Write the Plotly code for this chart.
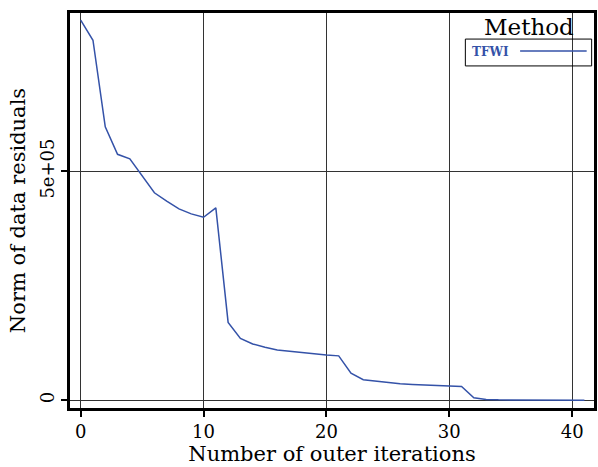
import plotly.graph_objects as go

iterations = list(range(42))
residuals = [830000, 786000, 597000, 537000, 527000, 490000, 453000, 435000, 418000, 407000,
             399500, 420000, 170000, 135000, 123000, 116000, 110000, 107000, 104000, 101000,
             99000, 97000, 59000, 45000, 42000, 38500, 36000, 34500, 33000, 32000,
             31000, 30000, 5700, 2000, 1000, 700, 500, 400, 300, 250, 200, 150]
x_ticks = [0, 10, 20, 30, 40]
y_ticks = [0, 500000]
y_tick_labels = ["0", "5e+05"]
series_name = "TFWI"
legend_title = "Method"

FONT = "DejaVu Serif"
LINE_COLOR = "#3452a8"

fig = go.Figure()
fig.add_trace(go.Scatter(x=iterations, y=residuals, mode="lines",
                         line=dict(color=LINE_COLOR, width=1.5),
                         name=series_name, showlegend=False))

axis_common = dict(showline=True, mirror=True, linecolor="black", linewidth=2.5,
                   showgrid=True, gridcolor="#333333", gridwidth=1, zeroline=False,
                   ticks="outside", ticklen=6, tickwidth=1.5, tickcolor="black",
                   tickfont=dict(family=FONT, size=18, color="black"))

fig.update_layout(
    width=598, height=467,
    margin=dict(l=70, r=1, t=13, b=59),
    paper_bgcolor="white", plot_bgcolor="white",
    xaxis=dict(range=[-0.87, 41.78], tickvals=x_ticks,
               title=dict(text="Number of outer iterations", font=dict(family=FONT, size=21, color="black"), standoff=2),
               **axis_common),
    yaxis=dict(range=[-16800, 845500], tickvals=y_ticks, ticktext=y_tick_labels, tickangle=-90,
               title=dict(text="Norm of data residuals", font=dict(family=FONT, size=21, color="black"), standoff=6),
               **axis_common),
    showlegend=False,
)

# legend drawn manually (title, box, label, line sample)
fig.add_annotation(xref="paper", yref="paper", x=0.876, y=0.9646, text=legend_title,
                   showarrow=False, font=dict(family=FONT, size=23, color="black"),
                   xanchor="center", yanchor="middle")
fig.add_shape(type="rect", xref="paper", yref="paper", x0=0.7545, x1=0.9955, y0=0.866, y1=0.934,
              line=dict(color="black", width=1))
fig.add_annotation(xref="paper", yref="paper", x=0.764, y=0.902, text="<b>" + series_name + "</b>",
                   showarrow=False, font=dict(family="DejaVu Serif", size=12, color=LINE_COLOR),
                   xanchor="left", yanchor="middle")
fig.add_shape(type="line", xref="paper", yref="paper", x0=0.859, x1=0.986, y0=0.904, y1=0.904,
              line=dict(color=LINE_COLOR, width=1.5))

fig.write_html("out.html")
